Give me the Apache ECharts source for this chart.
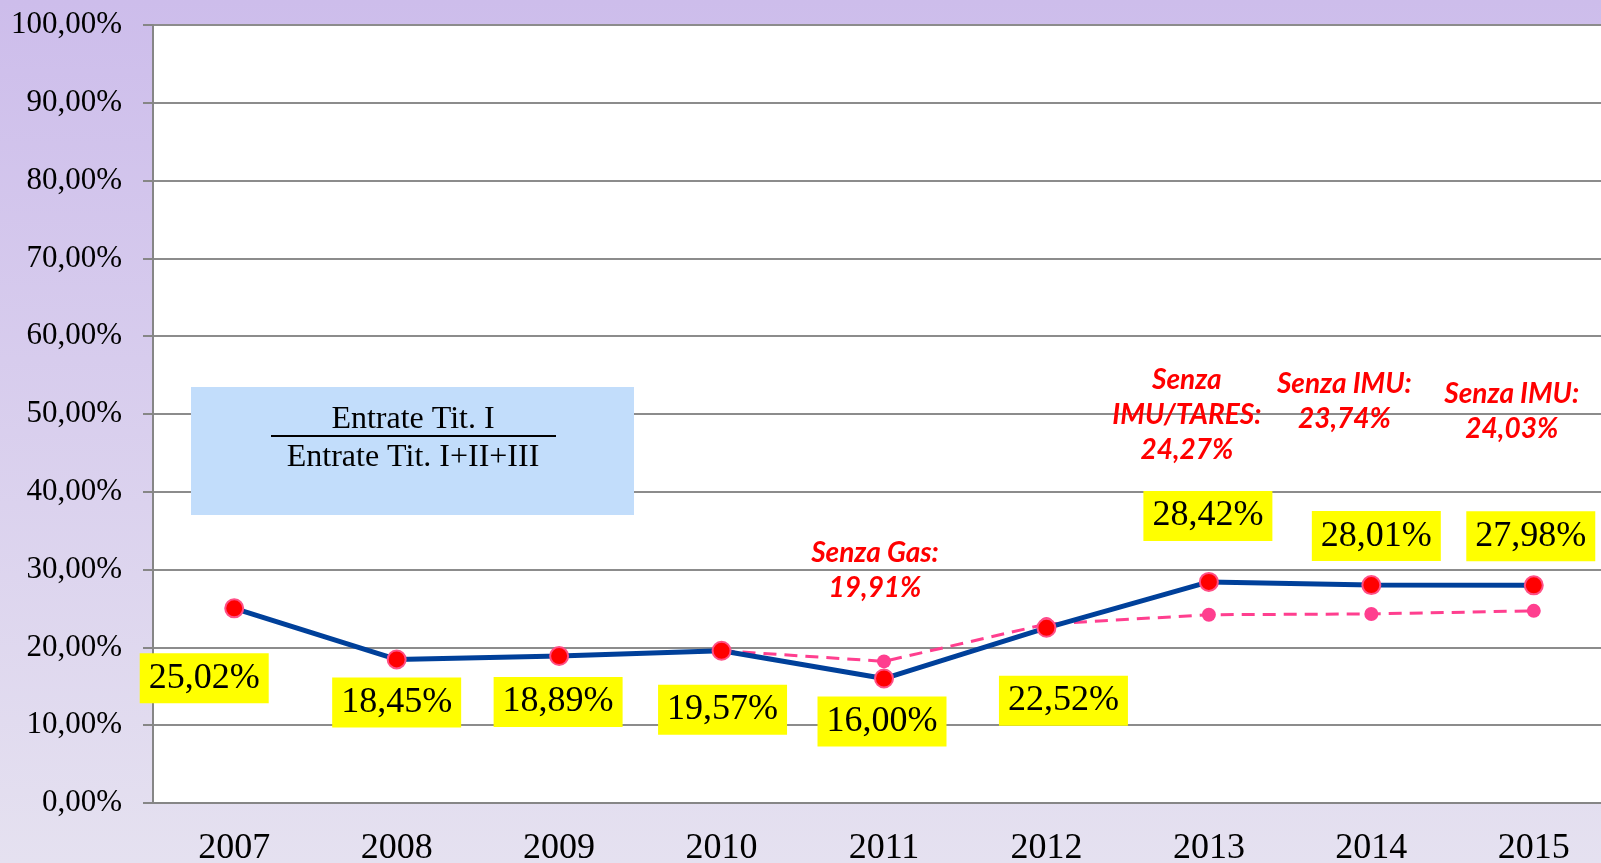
<!DOCTYPE html>
<html>
<head>
<meta charset="utf-8">
<script src="https://cdn.jsdelivr.net/npm/echarts@6/dist/echarts.min.js"></script>
<style>
  html, body { margin: 0; padding: 0; }
  #chart { width: 1601px; height: 863px; }
</style>
</head>
<body>
<div id="chart"></div>
<script>
// anni
const years = ['2007', '2008', '2009', '2010', '2011', '2012', '2013', '2014', '2015'];
// Entrate Tit. I / Entrate Tit. I+II+III
const ratio = [25.02, 18.45, 18.89, 19.57, 16.00, 22.52, 28.42, 28.01, 27.98];
// senza gas / IMU / TARES
const ratioNet = [null, null, null, 19.57, 18.2, 23.0, 24.2, 24.3, 24.7];
const netNotes = [null, null, null, null, 'Senza Gas:\n19,91%', null,
  'Senza\nIMU/TARES:\n24,27%', 'Senza IMU:\n23,74%', 'Senza IMU:\n24,03%'];

// spostamento etichette
const ratioLabelOffset = [[-30, 70], [0, 43], [-1, 46], [1, 59], [-2, 43], [17, 73], [-1, -66], [5, -49], [-3, -49]];
const noteOffset = [null, null, null, null, [-9, -91], null, [-22, -200], [-27, -212], [-22, -199]];

const pct = v => v.toFixed(2).replace('.', ',') + '%';

const myChart = echarts.init(document.getElementById('chart'));
myChart.setOption({
  animation: false,
  backgroundColor: {
    type: 'linear', x: 0, y: 0, x2: 0, y2: 1,
    colorStops: [{ offset: 0, color: '#cdbdeb' }, { offset: 1, color: '#e5e1f0' }]
  },
  // l'area del grafico esce oltre il bordo destro
  grid: {
    left: 153, top: 25, right: -14, bottom: 60,
    outerBoundsMode: 'none', containLabel: false,
    show: true, backgroundColor: '#fff', borderWidth: 0
  },
  xAxis: {
    type: 'category',
    data: years,
    axisLine: { lineStyle: { color: '#868686', width: 2 } },
    axisTick: { length: 10, lineStyle: { color: '#868686', width: 2 } },
    axisLabel: { color: '#000', fontFamily: 'Liberation Serif', fontSize: 36, margin: 28 }
  },
  yAxis: {
    type: 'value',
    min: 0, max: 100, interval: 10,
    axisLine: { show: true, lineStyle: { color: '#868686', width: 2 } },
    axisTick: { show: true, length: 10, lineStyle: { color: '#868686', width: 2 } },
    splitLine: { lineStyle: { color: '#8c8c8c', width: 2 } },
    axisLabel: { color: '#000', fontFamily: 'Liberation Serif', fontSize: 31, margin: 31, formatter: v => pct(v) }
  },
  graphic: [
    { type: 'rect', shape: { x: 191, y: 387, width: 443, height: 128 }, style: { fill: '#c2ddfb' }, z: 5 },
    { type: 'text', x: 413, y: 420, z: 6, style: { text: 'Entrate Tit. I', fill: '#000', font: '32px "Liberation Serif"', align: 'center', verticalAlign: 'middle' } },
    { type: 'line', shape: { x1: 271, y1: 436, x2: 556, y2: 436 }, style: { stroke: '#000', lineWidth: 2 }, z: 6 },
    { type: 'text', x: 413, y: 458, z: 6, style: { text: 'Entrate Tit. I+II+III', fill: '#000', font: '32px "Liberation Serif"', align: 'center', verticalAlign: 'middle' } }
  ],
  series: [
    {
      type: 'line',
      z: 3,
      data: ratioNet.map((v, i) => ({
        value: v,
        symbolSize: i === 3 ? 0 : 14,
        label: netNotes[i] ? { show: true, offset: noteOffset[i] } : { show: false }
      })),
      symbol: 'circle',
      itemStyle: { color: '#ff3f8f' },
      lineStyle: { color: '#ff3f8f', width: 3, type: [13, 8] },
      label: {
        position: 'inside',
        formatter: p => netNotes[p.dataIndex],
        color: '#ff0000', fontFamily: 'Lato', fontWeight: 'bold', fontStyle: 'italic',
        fontSize: 28, lineHeight: 35, align: 'center'
      }
    },
    {
      type: 'line',
      z: 4,
      data: ratio.map((v, i) => ({ value: v, label: { offset: ratioLabelOffset[i] } })),
      symbol: 'circle',
      symbolSize: 18,
      itemStyle: { color: '#ff0000', borderColor: '#ff4f86', borderWidth: 2 },
      lineStyle: { color: '#00409a', width: 5 },
      label: {
        show: true,
        position: 'inside',
        formatter: p => pct(p.value),
        color: '#000', fontFamily: 'Liberation Serif', fontSize: 36, lineHeight: 40,
        backgroundColor: '#ffff00', padding: [5, 9]
      }
    }
  ]
});
</script>
</body>
</html>
